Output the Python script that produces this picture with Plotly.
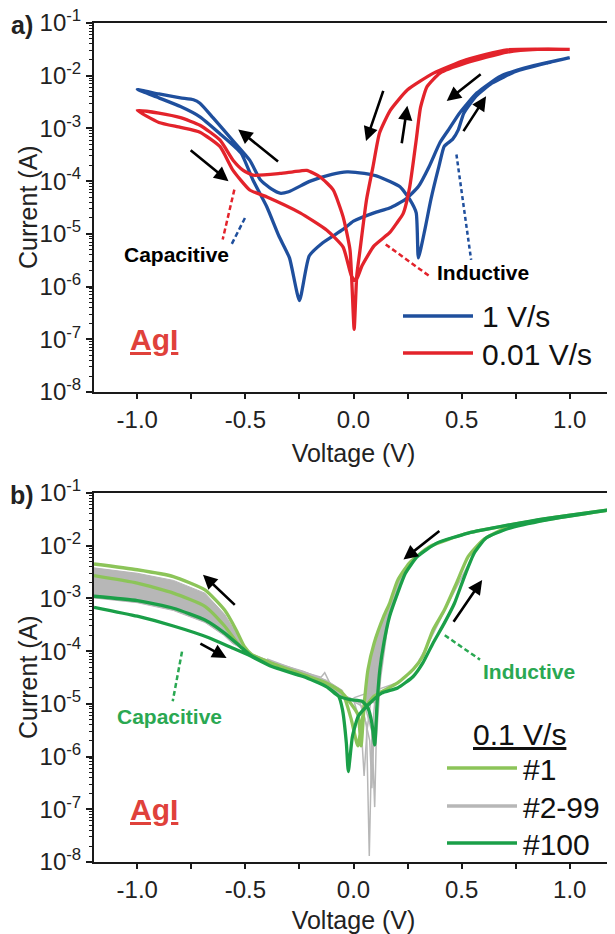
import plotly.graph_objects as go

# ---------------- Panel a data (Voltage V, Current A) ----------------
blue_fwd_v = [-1.0, -0.9, -0.8, -0.71, -0.62, -0.52, -0.465, -0.40, -0.345, -0.296, -0.25, -0.205, -0.142,
              -0.05, 0.0, 0.095, 0.167, 0.24, 0.30, 0.35, 0.40, 0.44, 0.49, 0.57, 0.68, 0.82, 1.0]
blue_fwd_i = [5.5e-3, 3.8e-3, 2.6e-3, 1.66e-3, 8.1e-4, 3.4e-4, 1.05e-4, 3.2e-5, 9.1e-6, 3.5e-6, 5.4e-7, 3.8e-6, 6.8e-6,
              1.2e-5, 1.74e-5, 2.5e-5, 3.1e-5, 4.5e-5, 7.9e-5, 1.9e-4, 5.4e-4, 9.5e-4, 1.95e-3, 4.7e-3, 9.8e-3, 1.5e-2, 2.2e-2]
blue_rev_v = [1.0, 0.895, 0.75, 0.64, 0.567, 0.51, 0.485, 0.458, 0.42, 0.395, 0.358, 0.33, 0.30, 0.29, 0.26, 0.215,
              0.12, 0.05, -0.03, -0.1, -0.2, -0.3, -0.34, -0.38, -0.43, -0.48, -0.56, -0.65, -0.71, -0.74, -0.8, -0.9, -1.0]
blue_rev_i = [2.2e-2, 1.74e-2, 1.2e-2, 7.2e-3, 4.1e-3, 1.95e-3, 9.5e-4, 6.2e-4, 4.6e-4, 1.9e-4, 4.5e-5, 1.2e-5, 3.5e-6,
              2.5e-5, 4.5e-5, 7.8e-5, 1.2e-4, 1.4e-4, 1.5e-4, 1.35e-4, 1.0e-4, 6.3e-5, 5.9e-5, 7.1e-5, 1.05e-4, 2.5e-4,
              6.0e-4, 1.6e-3, 3.0e-3, 3.5e-3, 3.8e-3, 4.5e-3, 5.5e-3]

red_fwd_v = [-1.0, -0.9, -0.8, -0.71, -0.617, -0.557, -0.48, -0.40, -0.247, -0.123, -0.048, -0.01, 0.01, 0.04, 0.095,
             0.167, 0.2, 0.23, 0.26, 0.29, 0.31, 0.34, 0.40, 0.52, 0.71, 0.85, 1.0]
red_fwd_i = [2.2e-3, 1.3e-3, 1.05e-3, 8.5e-4, 4.5e-4, 1.6e-4, 6.8e-5, 5.0e-5, 2.5e-5, 1.17e-5, 5.6e-6, 1.6e-6, 1.26e-6,
             2.5e-6, 5.9e-6, 1.05e-5, 1.6e-5, 2.45e-5, 7.8e-5, 6.0e-4, 2.5e-3, 6.2e-3, 1.12e-2, 1.74e-2, 2.8e-2, 3.16e-2, 3.16e-2]
red_rev_v = [1.0, 0.71, 0.52, 0.37, 0.25, 0.17, 0.12, 0.09, 0.06, 0.03, 0.015, 0.003, -0.016, -0.048, -0.094, -0.154,
             -0.216, -0.28, -0.34, -0.465, -0.51, -0.557, -0.617, -0.71, -0.8, -0.9, -1.0]
red_rev_i = [3.16e-2, 3.1e-2, 2.0e-2, 1.12e-2, 5.4e-3, 2.2e-3, 8.1e-4, 1.86e-4, 4.4e-5, 4.9e-6, 1.6e-6, 1.55e-7, 4.9e-6,
             2.1e-5, 6.8e-5, 1.2e-4, 1.6e-4, 1.5e-4, 1.4e-4, 1.3e-4, 1.6e-4, 2.5e-4, 6.0e-4, 1.15e-3, 1.6e-3, 1.95e-3, 2.2e-3]

# ---------------- Panel b data ----------------
g100_fwd_v = [-1.2, -1.0, -0.833, -0.669, -0.56, -0.487, -0.378, -0.233, -0.124, -0.069, -0.051, -0.033, -0.024, -0.005,
              0.022, 0.067, 0.13, 0.204, 0.276, 0.32, 0.367, 0.42, 0.467, 0.513, 0.558, 0.613, 0.713, 0.895, 1.2]
g100_fwd_i = [6.8e-4, 4.6e-4, 3.0e-4, 1.8e-4, 1.15e-4, 8.5e-5, 5.1e-5, 3.3e-5, 2.1e-5, 1.4e-5, 7.8e-6, 1.8e-6, 5.2e-7,
              2.4e-6, 5.8e-6, 9.5e-6, 1.6e-5, 2.0e-5, 3.3e-5, 5.9e-5, 1.4e-4, 3.4e-4, 8.1e-4, 2.6e-3, 7.2e-3, 1.4e-2,
              2.1e-2, 3.1e-2, 4.9e-2]
g100_rev_v = [1.2, 0.895, 0.713, 0.531, 0.385, 0.295, 0.24, 0.204, 0.167, 0.14, 0.122, 0.109, 0.098, 0.085, 0.067, 0.04,
              -0.015, -0.069, -0.124, -0.233, -0.378, -0.478, -0.524, -0.596, -0.687, -0.833, -1.0, -1.2]
g100_rev_i = [4.9e-2, 3.3e-2, 2.45e-2, 1.74e-2, 1.12e-2, 6.2e-3, 3.0e-3, 1.26e-3, 4.6e-4, 1.4e-4, 4.5e-5, 1.02e-5, 1.66e-6,
              4.3e-6, 8.3e-6, 1.12e-5, 1.2e-5, 1.4e-5, 2.1e-5, 3.3e-5, 5.1e-5, 8.5e-5, 1.23e-4, 2.2e-4, 3.9e-4, 6.5e-4,
              9.1e-4, 1.1e-3]

g1_fwd_v = [-1.2, -1.0, -0.833, -0.687, -0.596, -0.524, -0.469, -0.378, -0.233, -0.124, -0.051, -0.01, 0.02, 0.05, 0.095,
            0.204, 0.276, 0.32, 0.367, 0.42, 0.476, 0.53, 0.60, 0.71, 0.9, 1.2]
g1_fwd_i = [2.7e-3, 1.95e-3, 1.26e-3, 7.1e-4, 3.0e-4, 1.23e-4, 8.5e-5, 5.9e-5, 3.6e-5, 2.45e-5, 1.6e-5, 5.0e-6, 1.6e-6,
            7.9e-6, 1.4e-5, 2.5e-5, 4.5e-5, 7.9e-5, 2.5e-4, 6.0e-4, 1.95e-3, 6.2e-3, 1.3e-2, 2.2e-2, 3.16e-2, 4.9e-2]
g1_rev_v = [1.2, 0.9, 0.53, 0.35, 0.258, 0.204, 0.167, 0.14, 0.095, 0.067, 0.05, 0.035, 0.02, -0.051, -0.124, -0.233,
            -0.378, -0.469, -0.505, -0.542, -0.596, -0.687, -0.833, -1.0, -1.2]
g1_rev_i = [4.9e-2, 3.3e-2, 1.74e-2, 9.5e-3, 4.7e-3, 2.2e-3, 8.1e-4, 4.6e-4, 1.4e-4, 4.5e-5, 1.05e-5, 1.6e-6, 6.3e-6,
            1.6e-5, 2.45e-5, 3.6e-5, 5.9e-5, 8.5e-5, 1.23e-4, 2.5e-4, 6.0e-4, 1.45e-3, 2.6e-3, 3.5e-3, 4.5e-3]

# gray cycles #2-99 : dense band envelopes and individual visible traces
gray_left_band_v = [-1.2, -1.0, -0.833, -0.687, -0.596, -0.542, -0.505, -0.469, -0.378, -0.233, -0.124, -0.05,
                    -0.05, -0.124, -0.233, -0.378, -0.469, -0.505, -0.56, -0.6, -0.687, -0.833, -1.0, -1.2]
gray_left_band_i = [3.8e-3, 3.0e-3, 2.2e-3, 1.26e-3, 5.0e-4, 2.2e-4, 1.17e-4, 8.9e-5, 6.3e-5, 4.2e-5, 2.8e-5, 1.8e-5,
                    1.26e-5, 2.1e-5, 3.3e-5, 5.1e-5, 8.3e-5, 1.05e-4, 1.4e-4, 2.0e-4, 3.5e-4, 5.9e-4, 8.3e-4, 1.02e-3]
gray_right_band_v = [0.05, 0.067, 0.095, 0.14, 0.167, 0.204, 0.258, 0.26, 0.24, 0.204, 0.167, 0.14, 0.122, 0.109]
gray_right_band_i = [1.05e-5, 4.5e-5, 1.4e-4, 4.6e-4, 8.1e-4, 2.2e-3, 4.7e-3, 4.5e-3, 3.0e-3, 1.26e-3, 4.6e-4, 1.4e-4,
                     4.5e-5, 1.02e-5]
gray_spike1_v = [0.16, 0.11, 0.085, 0.073, 0.06, 0.03, -0.05]
gray_spike1_i = [5.0e-4, 4.0e-5, 2.5e-6, 1.3e-8, 4.0e-6, 1.05e-5, 1.4e-5]
gray_spike2_v = [0.15, 0.1, 0.062, 0.049, 0.035, 0.0, -0.06]
gray_spike2_i = [3.5e-4, 5.0e-5, 3.0e-6, 4.3e-7, 4.0e-6, 1.2e-5, 1.5e-5]
gray_spike3_v = [0.17, 0.125, 0.105, 0.098, 0.085, 0.05, -0.04]
gray_spike3_i = [7.0e-4, 3.0e-5, 2.0e-6, 1.1e-7, 3.0e-6, 1.0e-5, 1.4e-5]
gray_spike4_v = [0.16, 0.115, 0.092, 0.085, 0.075, 0.04, -0.04]
gray_spike4_i = [5.0e-4, 3.0e-5, 1.5e-6, 2.5e-7, 2.0e-6, 9.0e-6, 1.4e-5]
gray_bump_v = [-0.4, -0.25, -0.15, -0.133, -0.11, -0.07, -0.02]
gray_bump_i = [7.1e-5, 4.2e-5, 3.2e-5, 3.9e-5, 2.5e-5, 1.66e-5, 1.26e-5]
gray_ind_v = [0.0, 0.1, 0.2, 0.26, 0.3, 0.34, 0.4, 0.45, 0.5, 0.55]
gray_ind_i = [1.3e-5, 1.8e-5, 2.5e-5, 3.8e-5, 6.3e-5, 1.26e-4, 4.0e-4, 1.0e-3, 2.5e-3, 6.3e-3]

# annotation guide lines (dashed)
a_cap_red_v, a_cap_red_i = [-0.551, -0.605], [6.9e-5, 7.8e-6]
a_cap_blue_v, a_cap_blue_i = [-0.502, -0.564], [2.0e-5, 6.3e-6]
a_ind_red_v, a_ind_red_i = [0.149, 0.349], [6.3e-6, 1.6e-6]
a_ind_blue_v, a_ind_blue_i = [0.476, 0.544], [3.2e-4, 3.2e-6]
b_cap_v, b_cap_i = [-0.793, -0.836], [9.8e-5, 1.12e-5]
b_ind_v, b_ind_i = [0.422, 0.585], [2.0e-4, 6.9e-5]

# arrows: (tail V, tail log10 I, head V, head log10 I)
arrows_a = [(-0.76, -3.39, -0.578, -4.0), (-0.342, -3.65, -0.533, -3.02), (0.14, -2.26, 0.058, -3.24),
            (0.222, -3.31, 0.249, -2.57), (0.595, -1.95, 0.431, -2.48), (0.504, -3.08, 0.613, -2.39)]
arrows_b = [(0.404, -1.70, 0.231, -2.26), (-0.542, -3.15, -0.696, -2.55), (-0.715, -3.84, -0.587, -4.13),
            (0.458, -3.47, 0.595, -2.65)]

BLUE = "#1f4f9d"
RED = "#e3232b"
LGREEN = "#8cc459"
DGREEN = "#1a9f48"
GRAY = "#b7b7b7"
TGREEN = "#2aa852"
FONT = "Arial, Liberation Sans, sans-serif"

fig = go.Figure()


def line(v, i, color, width, xa, ya, dash=None, fill=None, smooth=False):
    fig.add_trace(go.Scatter(x=v, y=i, mode="lines", xaxis=xa, yaxis=ya, showlegend=False, hoverinfo="skip",
                             fill=fill, fillcolor=color if fill else None,
                             line=dict(color=color, width=width, dash=dash,
                                       shape="spline" if smooth else "linear", smoothing=0.5 if smooth else None)))


# panel a
line(blue_fwd_v + blue_rev_v, blue_fwd_i + blue_rev_i, BLUE, 3.3, "x", "y", smooth=True)
line(red_fwd_v + red_rev_v, red_fwd_i + red_rev_i, RED, 3.3, "x", "y", smooth=True)
line(a_cap_red_v, a_cap_red_i, RED, 2.5, "x", "y", dash="5px,3px")
line(a_cap_blue_v, a_cap_blue_i, BLUE, 2.5, "x", "y", dash="5px,3px")
line(a_ind_red_v, a_ind_red_i, RED, 2.5, "x", "y", dash="5px,3px")
line(a_ind_blue_v, a_ind_blue_i, BLUE, 2.5, "x", "y", dash="4px,3px")

# panel b
line(gray_left_band_v, gray_left_band_i, GRAY, 1, "x2", "y2", fill="toself")
line(gray_right_band_v, gray_right_band_i, GRAY, 1, "x2", "y2", fill="toself")
for gv, gi in [(gray_spike1_v, gray_spike1_i), (gray_spike2_v, gray_spike2_i), (gray_spike3_v, gray_spike3_i),
               (gray_spike4_v, gray_spike4_i), (gray_bump_v, gray_bump_i), (gray_ind_v, gray_ind_i)]:
    line(gv, gi, GRAY, 1.5, "x2", "y2")
line(g1_fwd_v + g1_rev_v, g1_fwd_i + g1_rev_i, LGREEN, 3.3, "x2", "y2", smooth=True)
line(g100_fwd_v + g100_rev_v, g100_fwd_i + g100_rev_i, DGREEN, 3.3, "x2", "y2", smooth=True)
line(b_cap_v, b_cap_i, TGREEN, 2.5, "x2", "y2", dash="5px,3px")
line(b_ind_v, b_ind_i, TGREEN, 2.5, "x2", "y2", dash="5px,3px")

annotations = []
for (xa, ya, arrs) in [("x", "y", arrows_a), ("x2", "y2", arrows_b)]:
    for (tv, tl, hv, hl) in arrs:
        annotations.append(dict(x=hv, y=hl, ax=tv, ay=tl, xref=xa, yref=ya, axref=xa, ayref=ya, text="",
                                showarrow=True, arrowhead=2, arrowsize=1.1, arrowwidth=2.6, arrowcolor="#000"))

# text labels on axes (log axes: y in log10 units)
annotations += [
    dict(x=-0.818, y=-5.39, xref="x", yref="y", text="<b>Capacitive</b>", showarrow=False,
         font=dict(family=FONT, size=21, color="#000")),
    dict(x=0.60, y=-5.73, xref="x", yref="y", text="<b>Inductive</b>", showarrow=False,
         font=dict(family=FONT, size=21, color="#000")),
    dict(x=-0.924, y=-7.0, xref="x", yref="y", text="<b><u>AgI</u></b>", showarrow=False,
         font=dict(family=FONT, size=30, color="#e0413b")),
    dict(x=-0.85, y=-5.24, xref="x2", yref="y2", text="<b>Capacitive</b>", showarrow=False,
         font=dict(family=FONT, size=21, color=TGREEN)),
    dict(x=0.813, y=-4.39, xref="x2", yref="y2", text="<b>Inductive</b>", showarrow=False,
         font=dict(family=FONT, size=21, color=TGREEN)),
    dict(x=-0.924, y=-7.0, xref="x2", yref="y2", text="<b><u>AgI</u></b>", showarrow=False,
         font=dict(family=FONT, size=30, color="#e0413b")),
]

# page is offset by the 8px body margin; pixel targets below are page pixels
OFF = 8
W, H = 615 - OFF, 934 - OFF
L, R, T, B = 94 - OFF, 2, 23 - OFF, H - (862 - OFF)


def px(xpage):
    return (xpage - OFF - L) / (W - L - R)


def py(ypage):
    return (H - B - (ypage - OFF)) / (H - T - B)


def note(xpage, ypage, text, size, color="#111", xanchor="center", angle=0):
    return dict(x=px(xpage), y=py(ypage), xref="paper", yref="paper", text=text, showarrow=False,
                xanchor=xanchor, yanchor="middle", textangle=angle, font=dict(family=FONT, size=size, color=color))


annotations += [note(22, 25, "<b>a)</b>", 25, "#222"), note(22, 495, "<b>b)</b>", 25, "#222")]
# y-axis titles
annotations += [note(28, 207, "Current (A)", 25, "#222", angle=-90),
                note(28, 677, "Current (A)", 25, "#222", angle=-90)]

# legends drawn as sample lines + text
legend_a = [("1 V/s", BLUE, 316), ("0.01 V/s", RED, 353)]
legend_b = [("#1", LGREEN, 768), ("#2-99", GRAY, 806), ("#100", DGREEN, 843)]
shapes = []
for (lab, col, yy) in legend_a:
    shapes.append(dict(type="line", xref="paper", yref="paper", x0=px(403), x1=px(473), y0=py(yy), y1=py(yy),
                       line=dict(color=col, width=3.5)))
    annotations.append(note(480, yy + 1, lab, 30, xanchor="left"))
for (lab, col, yy) in legend_b:
    shapes.append(dict(type="line", xref="paper", yref="paper", x0=px(447), x1=px(517), y0=py(yy), y1=py(yy),
                       line=dict(color=col, width=3.5)))
    annotations.append(note(521, yy + 1, lab, 30, xanchor="left"))
annotations.append(note(519, 734, "<u>0.1 V/s</u>", 30))

ytickvals = [1e-8, 1e-7, 1e-6, 1e-5, 1e-4, 1e-3, 1e-2, 1e-1]
yticktext = ["10<sup>-8</sup>", "10<sup>-7</sup>", "10<sup>-6</sup>", "10<sup>-5</sup>", "10<sup>-4</sup>",
             "10<sup>-3</sup>", "10<sup>-2</sup>", "10<sup>-1</sup>"]
xtickvals = [-1.0, -0.5, 0.0, 0.5, 1.0]
xticktext = ["-1.0", "-0.5", "0.0", "0.5", "1.0"]
xminor = [-0.75, -0.25, 0.25, 0.75]
yminor = [m * d for d in [1e-8, 1e-7, 1e-6, 1e-5, 1e-4, 1e-3, 1e-2] for m in range(2, 10)]

axis_common = dict(showgrid=False, zeroline=False, showline=True, linecolor="#1a1a1a", linewidth=2, mirror=True,
                   ticks="outside", tickcolor="#1a1a1a", tickwidth=1.5, automargin=False, ticklabeloverflow="allow",
                   tickfont=dict(family=FONT, size=24, color="#222"))
xax = dict(axis_common, range=[-1.2, 1.2], tickvals=xtickvals, ticktext=xticktext, ticklen=5,
           minor=dict(tickvals=xminor, ticks="outside", ticklen=5, tickcolor="#1a1a1a", tickwidth=1.5),
           title=dict(text="Voltage (V)", font=dict(family=FONT, size=25, color="#222"), standoff=13))
yax = dict(axis_common, type="log", range=[-8, -1], tickvals=ytickvals, ticktext=yticktext, ticklen=6,
           minor=dict(tickvals=yminor, ticks="outside", ticklen=3, tickcolor="#1a1a1a", tickwidth=1))

fig.update_layout(
    width=W, height=H, margin=dict(l=L, r=R, t=T, b=B, autoexpand=False), plot_bgcolor="white",
    paper_bgcolor="white", showlegend=False,
    xaxis=dict(xax, domain=[0, 1], anchor="y"),
    yaxis=dict(yax, domain=[(862 - 392) / (H - T - B), 1], anchor="x"),
    xaxis2=dict(xax, domain=[0, 1], anchor="y2"),
    yaxis2=dict(yax, domain=[0, (862 - 493) / (H - T - B)], anchor="x2"),
    annotations=annotations, shapes=shapes,
)

fig.write_html("out.html")
